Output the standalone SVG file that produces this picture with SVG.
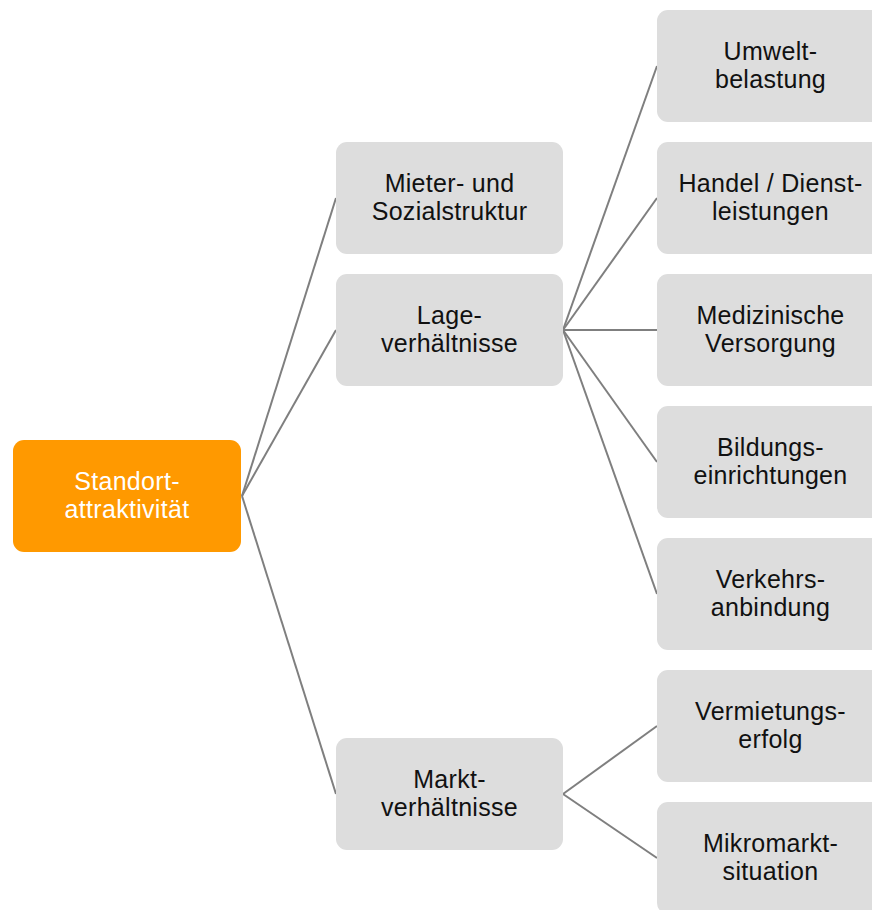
<svg xmlns="http://www.w3.org/2000/svg" width="872" height="910" viewBox="0 0 872 910">
  <style>
    .box { fill: #dddddd; }
    .root { fill: #ff9900; }
    .lbl { font-family: "Liberation Sans", Arial, sans-serif; font-size: 25px; letter-spacing: 0.3px; fill: #111111; text-anchor: middle; }
    .lbl-root { font-family: "Liberation Sans", Arial, sans-serif; font-size: 25px; letter-spacing: 0.3px; fill: #ffffff; text-anchor: middle; }
    .edge { stroke: #7f7f7f; stroke-width: 2; fill: none; }
  </style>
  <rect width="872" height="910" fill="#ffffff"/>

  <!-- connectors -->
  <g id="connectors">
    <line class="edge" x1="242" y1="496" x2="336" y2="198"/>
    <line class="edge" x1="242" y1="496" x2="336" y2="330"/>
    <line class="edge" x1="242" y1="496" x2="336" y2="794"/>
    <line class="edge" x1="563" y1="330" x2="657" y2="66"/>
    <line class="edge" x1="563" y1="330" x2="657" y2="198"/>
    <line class="edge" x1="563" y1="330" x2="657" y2="330"/>
    <line class="edge" x1="563" y1="330" x2="657" y2="462"/>
    <line class="edge" x1="563" y1="330" x2="657" y2="594"/>
    <line class="edge" x1="563" y1="794" x2="657" y2="726"/>
    <line class="edge" x1="563" y1="794" x2="657" y2="858"/>
  </g>

  <!-- root -->
  <g id="standort">
    <rect class="root" x="13" y="440" width="228" height="112" rx="11"/>
    <text class="lbl-root" x="127" y="490">Standort-</text>
    <text class="lbl-root" x="127" y="518">attraktivität</text>
  </g>

  <!-- second level -->
  <g id="mieter">
    <rect class="box" x="336" y="142" width="227" height="112" rx="11"/>
    <text class="lbl" x="449.5" y="192">Mieter- und</text>
    <text class="lbl" x="449.5" y="220">Sozialstruktur</text>
  </g>
  <g id="lage">
    <rect class="box" x="336" y="274" width="227" height="112" rx="11"/>
    <text class="lbl" x="449.5" y="324">Lage-</text>
    <text class="lbl" x="449.5" y="352">verhältnisse</text>
  </g>
  <g id="markt">
    <rect class="box" x="336" y="738" width="227" height="112" rx="11"/>
    <text class="lbl" x="449.5" y="788">Markt-</text>
    <text class="lbl" x="449.5" y="816">verhältnisse</text>
  </g>

  <!-- third level -->
  <g id="umwelt">
    <rect class="box" x="657" y="10" width="227" height="112" rx="11"/>
    <text class="lbl" x="770.5" y="60">Umwelt-</text>
    <text class="lbl" x="770.5" y="88">belastung</text>
  </g>
  <g id="handel">
    <rect class="box" x="657" y="142" width="227" height="112" rx="11"/>
    <text class="lbl" x="770.5" y="192">Handel / Dienst-</text>
    <text class="lbl" x="770.5" y="220">leistungen</text>
  </g>
  <g id="medizin">
    <rect class="box" x="657" y="274" width="227" height="112" rx="11"/>
    <text class="lbl" x="770.5" y="324">Medizinische</text>
    <text class="lbl" x="770.5" y="352">Versorgung</text>
  </g>
  <g id="bildung">
    <rect class="box" x="657" y="406" width="227" height="112" rx="11"/>
    <text class="lbl" x="770.5" y="456">Bildungs-</text>
    <text class="lbl" x="770.5" y="484">einrichtungen</text>
  </g>
  <g id="verkehr">
    <rect class="box" x="657" y="538" width="227" height="112" rx="11"/>
    <text class="lbl" x="770.5" y="588">Verkehrs-</text>
    <text class="lbl" x="770.5" y="616">anbindung</text>
  </g>
  <g id="vermietung">
    <rect class="box" x="657" y="670" width="227" height="112" rx="11"/>
    <text class="lbl" x="770.5" y="720">Vermietungs-</text>
    <text class="lbl" x="770.5" y="748">erfolg</text>
  </g>
  <g id="mikromarkt">
    <rect class="box" x="657" y="802" width="227" height="112" rx="11"/>
    <text class="lbl" x="770.5" y="852">Mikromarkt-</text>
    <text class="lbl" x="770.5" y="880">situation</text>
  </g>
</svg>
